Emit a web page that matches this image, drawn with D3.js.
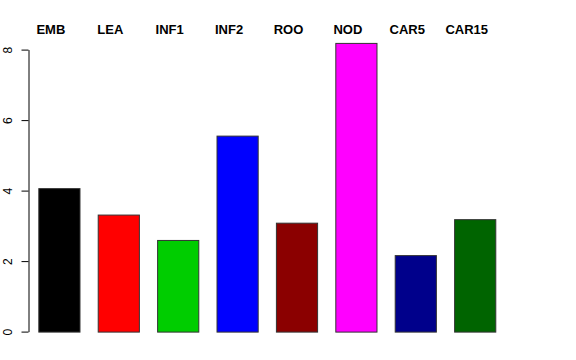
<!DOCTYPE html>
<html><head><meta charset="utf-8">
<script src="https://cdn.jsdelivr.net/npm/d3@7"></script>
<style>body{margin:0;background:#fff}svg{display:block}</style>
</head><body>
<script>
const categories = ["EMB","LEA","INF1","INF2","ROO","NOD","CAR5","CAR15"];
const values = [4.07, 3.32, 2.6, 5.56, 3.09, 8.19, 2.17, 3.19];
const colors = ["#000000","#FF0000","#00CD00","#0000FF","#8B0000","#FF00FF","#00008B","#006400"];
const yTicks = [0,2,4,6,8];

const W=576,H=360;
const svg=d3.select("body").append("svg").attr("width",W).attr("height",H);
const x=d3.scaleBand().domain(categories).range([29.7,504.9]).paddingInner(0.29).paddingOuter(0.145);
const y=d3.scaleLinear().domain([0,8]).range([331.6,49.6]);

svg.selectAll("rect.bar").data(categories).enter().append("rect")
  .attr("x",d=>x(d)+0.5).attr("width",x.bandwidth()-1)
  .attr("y",(d,i)=>y(values[i])+0.5).attr("height",(d,i)=>y(0)-y(values[i]))
  .attr("fill",(d,i)=>colors[i]).attr("stroke","#333").attr("stroke-width",1);

const ax=svg.append("g").attr("transform","translate(28.5,0)")
  .call(d3.axisLeft(y).tickValues(yTicks).tickSize(7).tickSizeOuter(0).tickFormat(d3.format("d")));
ax.select(".domain").attr("stroke","#000");
ax.selectAll(".tick line").attr("stroke","#000");
ax.selectAll(".tick text").attr("transform","rotate(-90)").attr("x",0).attr("y",-17)
  .attr("dy",0).attr("text-anchor","middle")
  .style("font-family","Liberation Sans, Arial, sans-serif").style("font-size","12px").attr("fill","#000");

svg.selectAll("text.lab").data(categories).enter().append("text")
  .attr("x",d=>x(d)+x.bandwidth()/2-8.5).attr("y",34)
  .attr("text-anchor","middle")
  .style("font-family","Liberation Sans, Arial, sans-serif").style("font-size","13px").style("font-weight","bold")
  .text(d=>d);
</script>
</body></html>
